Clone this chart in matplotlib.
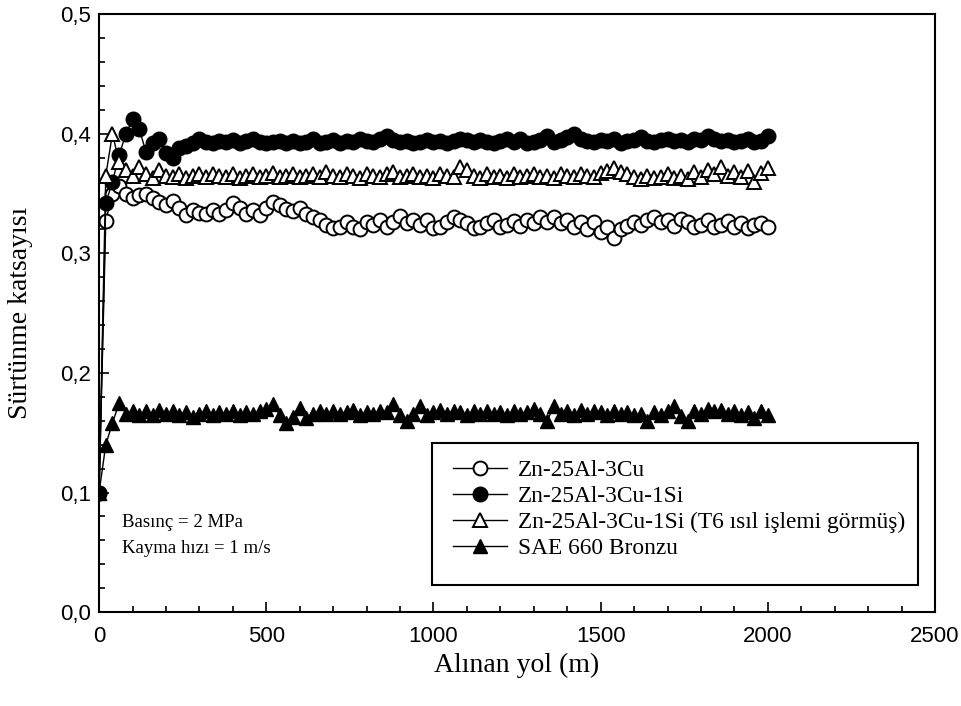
import matplotlib
matplotlib.use("Agg")
import matplotlib.pyplot as plt
from matplotlib.patches import Rectangle
from matplotlib.ticker import MultipleLocator, FuncFormatter

# distance (m), sampled every 20 m
yol = list(range(0, 2001, 20))

zn_cu = [
    0.100, 0.327, 0.350, 0.356, 0.350, 0.346, 0.349, 0.350, 0.346, 0.343,
    0.340, 0.344, 0.338, 0.332, 0.336, 0.334, 0.333, 0.336, 0.333, 0.336,
    0.342, 0.338, 0.333, 0.336, 0.332, 0.338, 0.343, 0.340, 0.337, 0.335,
    0.338, 0.333, 0.330, 0.328, 0.324, 0.321, 0.322, 0.326, 0.322, 0.320,
    0.326, 0.324, 0.328, 0.322, 0.326, 0.331, 0.325, 0.328, 0.324, 0.328,
    0.321, 0.322, 0.326, 0.330, 0.328, 0.325, 0.321, 0.322, 0.325, 0.328,
    0.322, 0.324, 0.327, 0.323, 0.328, 0.325, 0.330, 0.326, 0.330, 0.325,
    0.328, 0.322, 0.326, 0.320, 0.326, 0.318, 0.322, 0.313, 0.320, 0.323,
    0.326, 0.324, 0.328, 0.330, 0.326, 0.328, 0.323, 0.329, 0.326, 0.322,
    0.324, 0.328, 0.322, 0.324, 0.327, 0.322, 0.325, 0.321, 0.324, 0.325,
    0.322,
]

zn_cu_si = [
    0.100, 0.342, 0.360, 0.382, 0.400, 0.412, 0.404, 0.385, 0.392, 0.396,
    0.384, 0.380, 0.388, 0.390, 0.392, 0.396, 0.393, 0.392, 0.394, 0.393,
    0.395, 0.392, 0.394, 0.396, 0.393, 0.392, 0.393, 0.394, 0.392, 0.394,
    0.392, 0.393, 0.396, 0.392, 0.393, 0.395, 0.392, 0.394, 0.393, 0.396,
    0.394, 0.393, 0.396, 0.398, 0.395, 0.393, 0.394, 0.392, 0.393, 0.395,
    0.393, 0.394, 0.392, 0.394, 0.396, 0.395, 0.393, 0.395, 0.393, 0.392,
    0.394, 0.396, 0.393, 0.396, 0.392, 0.393, 0.395, 0.398, 0.393, 0.395,
    0.397, 0.400, 0.396, 0.394, 0.393, 0.395, 0.394, 0.396, 0.392, 0.394,
    0.395, 0.397, 0.394, 0.393, 0.395, 0.396, 0.394, 0.395, 0.393, 0.396,
    0.395, 0.398, 0.396, 0.394, 0.395, 0.393, 0.394, 0.396, 0.393, 0.394,
    0.398,
]

zn_cu_si_t6 = [
    0.100, 0.365, 0.400, 0.376, 0.370, 0.365, 0.372, 0.366, 0.363, 0.370,
    0.365, 0.364, 0.366, 0.363, 0.365, 0.366, 0.364, 0.366, 0.365, 0.364,
    0.366, 0.363, 0.365, 0.366, 0.364, 0.365, 0.367, 0.364, 0.365, 0.366,
    0.364, 0.365, 0.366, 0.364, 0.368, 0.365, 0.364, 0.366, 0.365, 0.363,
    0.366, 0.365, 0.364, 0.366, 0.368, 0.364, 0.365, 0.366, 0.364, 0.365,
    0.363, 0.366, 0.365, 0.364, 0.372, 0.370, 0.365, 0.363, 0.366, 0.364,
    0.365, 0.363, 0.366, 0.364, 0.365, 0.366, 0.364, 0.365, 0.363, 0.366,
    0.365, 0.364, 0.366, 0.365, 0.364, 0.367, 0.369, 0.371, 0.368, 0.366,
    0.364, 0.362, 0.365, 0.363, 0.364, 0.366, 0.363, 0.365, 0.362, 0.368,
    0.364, 0.370, 0.366, 0.372, 0.365, 0.368, 0.364, 0.369, 0.360, 0.367,
    0.371,
]

sae660 = [
    0.100, 0.140, 0.158, 0.175, 0.166, 0.168, 0.165, 0.168, 0.165, 0.169,
    0.166, 0.168, 0.165, 0.167, 0.163, 0.166, 0.168, 0.165, 0.167, 0.166,
    0.168, 0.165, 0.167, 0.166, 0.168, 0.170, 0.174, 0.165, 0.158, 0.163,
    0.171, 0.162, 0.166, 0.168, 0.166, 0.168, 0.166, 0.167, 0.169, 0.165,
    0.167, 0.166, 0.168, 0.167, 0.174, 0.165, 0.160, 0.166, 0.172, 0.165,
    0.167, 0.169, 0.166, 0.168, 0.167, 0.165, 0.168, 0.166, 0.168, 0.166,
    0.167, 0.165, 0.168, 0.166, 0.167, 0.170, 0.166, 0.160, 0.172, 0.166,
    0.168, 0.165, 0.169, 0.166, 0.168, 0.167, 0.165, 0.168, 0.166, 0.167,
    0.165, 0.166, 0.160, 0.167, 0.165, 0.168, 0.172, 0.164, 0.160, 0.168,
    0.166, 0.170, 0.168, 0.169, 0.166, 0.168, 0.165, 0.167, 0.162, 0.168,
    0.165,
]

serif = ["Liberation Serif", "DejaVu Serif"]
sans = ["Liberation Sans", "DejaVu Sans"]

fig = plt.figure(figsize=(9.62, 7.06), dpi=100)
ax = fig.add_axes([0.103, 0.133, 0.869, 0.847])

ms = 10
ax.plot(yol, zn_cu, color="black", lw=1, marker="o", ms=ms,
        mfc="white", mec="black", mew=1.4, label="Zn-25Al-3Cu")
ax.plot(yol, zn_cu_si, color="black", lw=1, marker="o", ms=ms + 0.5,
        mfc="black", mec="black", label="Zn-25Al-3Cu-1Si")
ax.plot(yol, zn_cu_si_t6, color="black", lw=1, marker="^", ms=ms,
        mfc="white", mec="black", mew=1.4,
        label="Zn-25Al-3Cu-1Si (T6 ısıl işlemi görmüş)")
ax.plot(yol, sae660, color="black", lw=1, marker="^", ms=ms,
        mfc="black", mec="black", label="SAE 660 Bronzu")

ax.set_xlim(0, 2500)
ax.set_ylim(0, 0.5)
ax.xaxis.set_major_locator(MultipleLocator(500))
ax.xaxis.set_minor_locator(MultipleLocator(100))
ax.yaxis.set_major_locator(MultipleLocator(0.1))
ax.yaxis.set_minor_locator(MultipleLocator(0.02))
ax.yaxis.set_major_formatter(FuncFormatter(lambda v, p: f"{v:.1f}".replace(".", ",")))
ax.tick_params(which="both", direction="in", top=False, right=False, width=1.2)
ax.tick_params(which="major", length=7)
ax.tick_params(which="minor", length=4)
ax.tick_params(axis="x", which="major", pad=10)
ax.tick_params(axis="y", which="major", pad=6)
for lab in ax.get_xticklabels() + ax.get_yticklabels():
    lab.set_fontfamily(sans)
    lab.set_fontsize(16)
for s in ax.spines.values():
    s.set_linewidth(1.5)

ax.set_xlabel("Alınan yol (m)", fontfamily=serif, fontsize=20, labelpad=4)
ax.set_ylabel("Sürtünme katsayısı", fontfamily=serif, fontsize=20, labelpad=19)

ax.text(69, 0.075, "Basınç = 2 MPa", fontfamily=serif, fontsize=13.5, va="center")
ax.text(69, 0.053, "Kayma hızı = 1 m/s", fontfamily=serif, fontsize=13.5, va="center")

# legend box drawn separately (extra room at the bottom like the original)
ax.add_patch(Rectangle((0.398, 0.045), 0.582, 0.238, transform=ax.transAxes,
                       fill=False, edgecolor="black", lw=1.5, zorder=5))
leg = ax.legend(loc="upper left", bbox_to_anchor=(0.4234, 0.2553),
                prop={"family": serif, "size": 16.8}, frameon=False,
                handlelength=2.3, handletextpad=0.5, borderpad=0,
                borderaxespad=0, labelspacing=0.21)

fig.savefig("out.png", dpi=100)
